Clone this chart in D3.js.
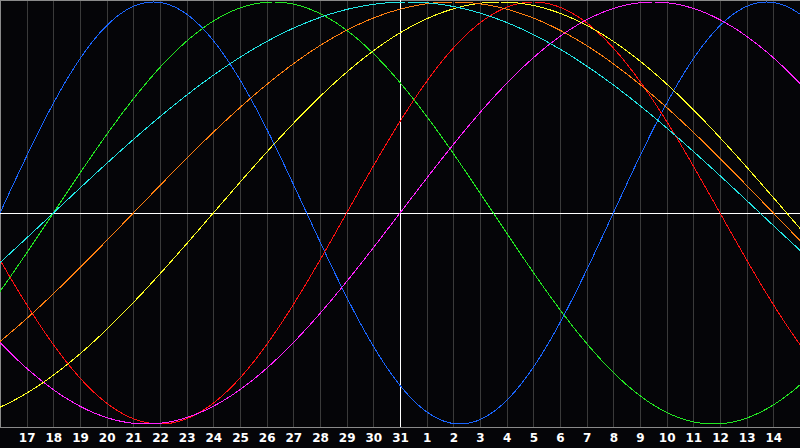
<!DOCTYPE html>
<html><head><meta charset="utf-8">
<script src="https://cdn.jsdelivr.net/npm/d3@7"></script>
<style>
html,body{margin:0;padding:0;background:#050508;}
svg{display:block;}
</style></head>
<body>
<svg id="chart" width="800" height="448"></svg>
<script>
// ---- data ----
const dayLabels = [17,18,19,20,21,22,23,24,25,26,27,28,29,30,31,1,2,3,4,5,6,7,8,9,10,11,12,13,14];
const todayIndex = 15;            // index of day "31" in the day grid (0 = day 16 at the left edge)
const daysAliveToday = 43738;     // days since birth on the marked day
const cycleNames = ["Physical","Emotional","Intellectual","Intuitive","Aesthetic","Awareness","Spiritual"];
const cyclePeriods = [23,28,33,38,43,48,53];
const cycleColors = ["#1a66ff","#ff1010","#22e622","#ff22ff","#ffff22","#ff8010","#22e6e6"];

// ---- layout ----
const W = 800, H = 448;
const svg = d3.select("#chart");
svg.append("rect").attr("width",W).attr("height",H).attr("fill","#050508");

const nDays = 30;
const x = d3.scaleLinear().domain([0, nDays]).range([0, W]);
const y = d3.scaleLinear().domain([-1, 1]).range([424, 2]);

// grid
const g = svg.append("g").attr("shape-rendering","crispEdges");
g.selectAll("line.grid").data(d3.range(1, nDays)).join("line")
  .attr("x1", d => Math.round(x(d)) + 0.5).attr("x2", d => Math.round(x(d)) + 0.5)
  .attr("y1", 0).attr("y2", 427)
  .attr("stroke", "#3a3a3a").attr("stroke-width", 1);

// border top/left
g.append("line").attr("x1",0.5).attr("x2",0.5).attr("y1",0).attr("y2",427).attr("stroke","#8a8a8a");
g.append("line").attr("x1",0).attr("x2",W).attr("y1",0.5).attr("y2",0.5).attr("stroke","#8a8a8a");
// bottom axis line
g.append("line").attr("x1",0).attr("x2",W).attr("y1",427.5).attr("y2",427.5).attr("stroke","#8a8a8a");

// curves
const line = d3.line().x(d => x(d[0])).y(d => y(d[1]));
const samples = d3.range(0, nDays + 0.001, 0.05);
const curves = svg.append("g").attr("shape-rendering","crispEdges");
cyclePeriods.forEach((P, i) => {
  const pts = samples.map(k => [k, Math.sin(2 * Math.PI * (daysAliveToday + k - todayIndex) / P)]);
  curves.append("path").datum(pts).attr("d", line)
    .attr("fill","none").attr("stroke", cycleColors[i]).attr("stroke-width", 1);
});

// zero line and today line
g.append("line").attr("x1",0).attr("x2",W).attr("y1",Math.round(y(0))+0.5).attr("y2",Math.round(y(0))+0.5)
  .attr("stroke","#ffffff").attr("stroke-width",1);
g.append("line").attr("x1",Math.round(x(todayIndex))+0.5).attr("x2",Math.round(x(todayIndex))+0.5)
  .attr("y1",0).attr("y2",427).attr("stroke","#ffffff").attr("stroke-width",1);

// axis labels
const axis = d3.axisBottom(x)
  .tickValues(d3.range(1, nDays))
  .tickFormat(d => dayLabels[d - 1])
  .tickSize(0).tickPadding(5);
const ax = svg.append("g").attr("transform","translate(0,428)").call(axis);
ax.select(".domain").remove();
ax.selectAll("text").attr("fill","#ffffff")
  .style("font-family","'DejaVu Sans', Verdana, sans-serif")
  .style("font-size","12px").style("font-weight","bold");
</script>
</body></html>
